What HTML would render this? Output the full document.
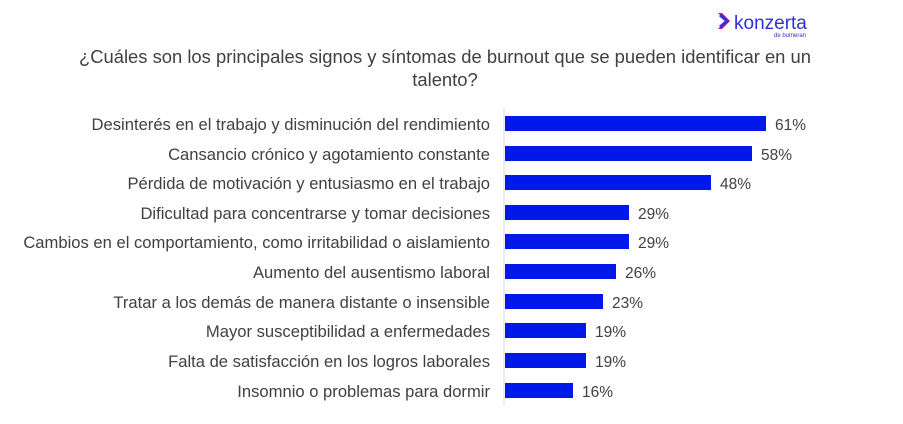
<!DOCTYPE html>
<html><head><meta charset="utf-8"><style>
body{margin:0;background:#fff;width:903px;height:419px;overflow:hidden;font-family:"Liberation Sans",sans-serif;}
</style></head><body>
<svg width="903" height="419" xmlns="http://www.w3.org/2000/svg" font-family="Liberation Sans, sans-serif">
<path d="M718 13 L726 21 L718 29 L722 29 L730 21 L722 13Z" fill="#e6007e"/>
<path d="M720 15 L727 21 L720 27" stroke="#3a2fd8" stroke-width="3" fill="none"/>
<text x="734" y="29" font-size="19" fill="#2f2fd8">konzerta</text>
<text x="774" y="37" font-size="6" fill="#2f2fd8">de bumeran</text>
<text x="445" y="63" font-size="18.4" fill="#404040" text-anchor="middle">¿Cuáles son los principales signos y síntomas de burnout que se pueden identificar en un</text>
<text x="445" y="86" font-size="18.4" fill="#404040" text-anchor="middle">talento?</text>
<line x1="504" y1="108" x2="504" y2="406" stroke="#d9d9d9" stroke-width="1"/>
<g font-size="16.6" fill="#404040">
<g text-anchor="end">
<text x="490" y="130">Desinterés en el trabajo y disminución del rendimiento</text>
<text x="490" y="160">Cansancio crónico y agotamiento constante</text>
<text x="490" y="189">Pérdida de motivación y entusiasmo en el trabajo</text>
<text x="490" y="219">Dificultad para concentrarse y tomar decisiones</text>
<text x="490" y="248">Cambios en el comportamiento, como irritabilidad o aislamiento</text>
<text x="490" y="278">Aumento del ausentismo laboral</text>
<text x="490" y="308">Tratar a los demás de manera distante o insensible</text>
<text x="490" y="337">Mayor susceptibilidad a enfermedades</text>
<text x="490" y="367">Falta de satisfacción en los logros laborales</text>
<text x="490" y="397">Insomnio o problemas para dormir</text>
</g>
<g fill="#0019ea">
<rect x="505" y="116" width="261" height="15"/>
<rect x="505" y="146" width="247" height="15"/>
<rect x="505" y="175" width="206" height="15"/>
<rect x="505" y="205" width="124" height="15"/>
<rect x="505" y="234" width="124" height="15"/>
<rect x="505" y="264" width="111" height="15"/>
<rect x="505" y="294" width="98" height="15"/>
<rect x="505" y="323" width="81" height="15"/>
<rect x="505" y="353" width="81" height="15"/>
<rect x="505" y="383" width="68" height="15"/>
</g>
<g font-size="15.5">
<text x="775" y="130">61%</text>
<text x="761" y="160">58%</text>
<text x="720" y="189">48%</text>
<text x="638" y="219">29%</text>
<text x="638" y="248">29%</text>
<text x="625" y="278">26%</text>
<text x="612" y="308">23%</text>
<text x="595" y="337">19%</text>
<text x="595" y="367">19%</text>
<text x="582" y="397">16%</text>
</g>
</g>
</svg>
</body></html>
